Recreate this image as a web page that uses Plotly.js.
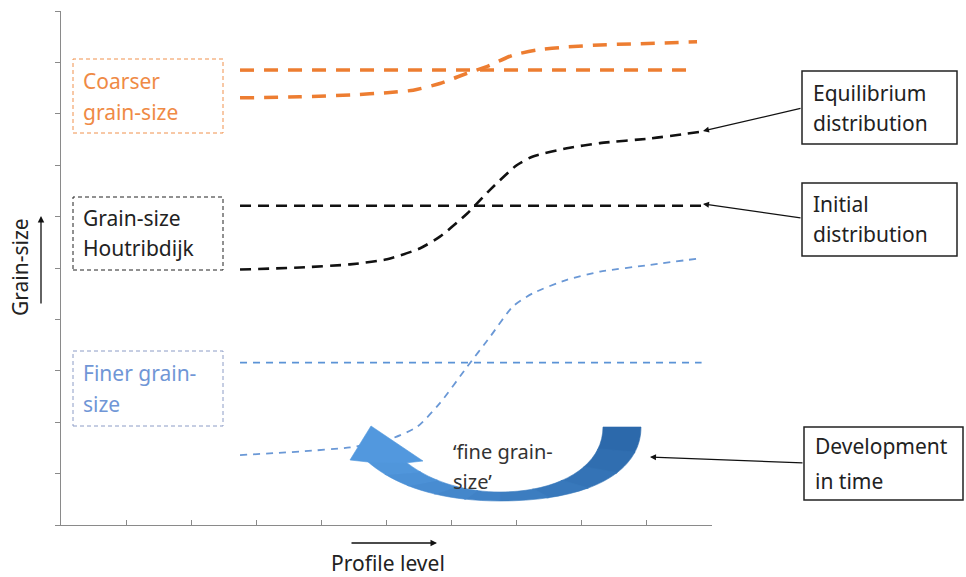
<!DOCTYPE html>
<html><head><meta charset="utf-8">
<script src="https://cdn.plot.ly/plotly-3.0.1.min.js"></script>
<style>html,body{margin:0;padding:0;background:#fff}#chart{width:966px;height:577px}</style>
</head><body><div id="chart"></div>
<script>
// ---- data (axis units: profile level 0..10, grain-size 0..10) ----
const orangeInitialX = [2.75, 9.71];
const orangeInitialY = [8.85, 8.85];
const orangeEquilX = [2.75, 3.67, 4.49, 5.01, 5.41, 5.82, 6.24, 6.54, 6.94, 7.31, 7.77, 8.28, 8.79, 9.77];
const orangeEquilY = [8.31, 8.33, 8.37, 8.41, 8.46, 8.59, 8.79, 8.92, 9.14, 9.24, 9.30, 9.34, 9.36, 9.40];
const blackInitialX = [2.75, 9.86];
const blackInitialY = [6.21, 6.21];
const blackEquilX = [2.75, 3.67, 4.44, 5.01, 5.51, 5.82, 6.24, 6.59, 7.00, 7.25, 7.77, 8.28, 9.05, 9.82];
const blackEquilY = [4.97, 5.01, 5.07, 5.17, 5.38, 5.61, 6.06, 6.52, 7.00, 7.17, 7.33, 7.43, 7.52, 7.65];
const blueInitialX = [2.75, 9.84];
const blueInitialY = [3.16, 3.16];
const blueEquilX = [2.75, 3.67, 4.44, 5.01, 5.47, 5.82, 6.24, 6.59, 6.94, 7.25, 7.77, 8.28, 9.05, 9.82];
const blueEquilY = [1.36, 1.43, 1.51, 1.65, 1.91, 2.37, 3.08, 3.66, 4.25, 4.51, 4.77, 4.93, 5.06, 5.19];

const leftLabels = [
  {lines: ['Coarser', 'grain-size'], color: '#ef8a45'},
  {lines: ['Grain-size', 'Houtribdijk'], color: '#222222'},
  {lines: ['Finer grain-', 'size'], color: '#7096d6'}
];
const rightLabels = [['Equilibrium', 'distribution'], ['Initial', 'distribution'], ['Development', 'in time']];
const arrowLabel = ['\u2018fine grain-', 'size\u2019'];
const xTitle = 'Profile level';
const yTitle = 'Grain-size';

// ---- layout helpers (pixel -> paper) ----
const L = 61, T = 11, PW = 651, PH = 514;
const fx = p => (p - L) / PW;
const fy = p => (T + PH - p) / PH;
const FONT = 'Noto Sans';

function line(x, y, color, width, dash) {
  return {x, y, mode: 'lines', type: 'scatter', hoverinfo: 'skip',
    line: {color, width, dash, shape: 'spline', smoothing: 0.6}};
}
const traces = [
  line(orangeInitialX, orangeInitialY, '#ed7d31', 3.5, '14px,10px'),
  line(orangeEquilX, orangeEquilY, '#ed7d31', 3.5, '14px,10px'),
  line(blackInitialX, blackInitialY, '#111111', 2.6, '11px,7px'),
  line(blackEquilX, blackEquilY, '#111111', 2.6, '11px,7px'),
  line(blueInitialX, blueInitialY, '#5b93d6', 1.8, '7px,6px'),
  line(blueEquilX, blueEquilY, '#6a98d6', 1.8, '7px,6px')
];

const shapes = [];
const annotations = [];
function rectPx(x0, y0, x1, y1, color, dash, width) {
  shapes.push({type: 'rect', xref: 'paper', yref: 'paper', x0: fx(x0), x1: fx(x1), y0: fy(y1), y1: fy(y0),
    line: {color, width, dash}, fillcolor: 'rgba(0,0,0,0)'});
}
function textPx(text, x, y, color, size, extra) {
  annotations.push(Object.assign({text, xref: 'paper', yref: 'paper', x: fx(x), y: fy(y),
    xanchor: 'left', yanchor: 'middle', showarrow: false,
    font: {family: FONT, size, color}}, extra || {}));
}
function arrowPx(hx, hy, tx, ty, w, head) {
  annotations.push({text: '', xref: 'paper', yref: 'paper', x: fx(hx), y: fy(hy),
    ax: tx - hx, ay: ty - hy, showarrow: true, arrowhead: head || 2, arrowsize: 1,
    arrowwidth: w || 1.2, arrowcolor: '#111'});
}
const pt = p => fx(p[0]).toFixed(5) + ',' + fy(p[1]).toFixed(5);
function addPath(d, color) {
  shapes.push({type: 'path', xref: 'paper', yref: 'paper', layer: 'above', path: d,
    fillcolor: color, line: {color, width: 0.6}});
}
const lerp = (a, b, t) => [a[0] + (b[0] - a[0]) * t, a[1] + (b[1] - a[1]) * t];
function splitCubic(P, t) {
  const a = lerp(P[0], P[1], t), b = lerp(P[1], P[2], t), c = lerp(P[2], P[3], t);
  const d = lerp(a, b, t), e = lerp(b, c, t), f = lerp(d, e, t);
  return [[P[0], a, d, f], [f, e, c, P[3]]];
}
function subCubic(P, t0, t1) {
  const first = splitCubic(P, t1)[0];
  return t0 === 0 ? first : splitCubic(first, t0 / t1)[1];
}

// left dashed label boxes
const leftBoxes = [[73, 59, 223, 133, '#f0914c'], [73, 197, 223, 270, '#222222'], [73, 351, 223, 426, '#8c9cc6']];
const leftLineY = [[81, 112], [218, 248], [373, 404]];
leftLabels.forEach((lab, i) => {
  const b = leftBoxes[i];
  rectPx(b[0], b[1], b[2], b[3], b[4], '4px,3px', 1);
  textPx(lab.lines[0], 81, leftLineY[i][0], lab.color, 21);
  textPx(lab.lines[1], 81, leftLineY[i][1], lab.color, 21);
});

// right solid label boxes
const rightBoxes = [[802, 71, 957, 144], [802, 183, 957, 256], [804, 427, 963, 500]];
const rightLineY = [[93, 123], [204, 234], [446, 481]];
rightLabels.forEach((lab, i) => {
  const b = rightBoxes[i];
  rectPx(b[0], b[1], b[2], b[3], '#222', 'solid', 1.5);
  textPx(lab[0], b[0] + 9, rightLineY[i][0], '#222', 21);
  textPx(lab[1], b[0] + 9, rightLineY[i][1], '#222', 21);
});

// pointer arrows
arrowPx(703, 131, 802, 108, 1.2, 2);
arrowPx(703, 204, 802, 218, 1.2, 2);
arrowPx(650, 457, 804, 463, 1.2, 2);
arrowPx(41, 216, 41, 305, 1.3, 2);
arrowPx(437, 543, 350, 543, 1.3, 2);

// curved "development" arrow, shaded dark (right) to light (left)
const curves = [
  {outer: [[641, 427], [641, 472], [590, 501], [500, 501]], inner: [[603, 427], [603, 466], [560, 492], [500, 492]]},
  {outer: [[500, 501], [440, 501], [395, 486], [367, 461]], inner: [[500, 492], [462, 492], [428, 480], [406, 462]]}
];
const cDark = [42, 102, 168], cLight = [82, 152, 222];
const mix = t => 'rgb(' + cDark.map((c, k) => Math.round(c + (cLight[k] - c) * t)).join(',') + ')';
const N = 5;
curves.forEach((cv, ci) => {
  for (let i = 0; i < N; i++) {
    const t0 = i / N, t1 = Math.min(1, (i + 1) / N + 0.01);
    const A = subCubic(cv.outer, t0, t1), B = subCubic(cv.inner, t0, t1);
    const d = 'M' + pt(A[0]) + ' C' + pt(A[1]) + ' ' + pt(A[2]) + ' ' + pt(A[3]) +
      ' L' + pt(B[3]) + ' C' + pt(B[2]) + ' ' + pt(B[1]) + ' ' + pt(B[0]) + ' Z';
    addPath(d, mix((ci * N + i + 0.5) / (2 * N)));
  }
});
addPath('M' + pt([368, 462]) + ' L' + pt([350, 460]) + ' L' + pt([371, 426]) + ' L' + pt([423, 461]) +
  ' L' + pt([405, 463]) + ' Z', mix(1));
textPx(arrowLabel[0], 451, 451, '#333', 20);
textPx(arrowLabel[1], 451, 481, '#333', 20);

// axis titles
textPx(xTitle, 329, 563, '#222', 21);
annotations.push({text: yTitle, xref: 'paper', yref: 'paper', x: fx(20), y: fy(267),
  xanchor: 'center', yanchor: 'middle', textangle: -90, showarrow: false,
  font: {family: FONT, size: 21, color: '#222'}});

const axisBase = {range: [0, 10], dtick: 1, tick0: 0, showgrid: false, zeroline: false,
  showline: true, linecolor: '#8a8a8a', linewidth: 1.2, tickcolor: '#8a8a8a', ticklen: 5,
  showticklabels: false, fixedrange: true};

const layout = {
  width: 966, height: 577,
  margin: {l: L, r: 966 - L - PW, t: T, b: 577 - T - PH, pad: 0},
  paper_bgcolor: '#ffffff', plot_bgcolor: '#ffffff',
  showlegend: false,
  xaxis: Object.assign({}, axisBase, {ticks: 'inside'}),
  yaxis: Object.assign({}, axisBase, {ticks: 'outside'}),
  shapes, annotations
};
Plotly.newPlot('chart', traces, layout, {displayModeBar: false, staticPlot: true});
</script></body></html>
